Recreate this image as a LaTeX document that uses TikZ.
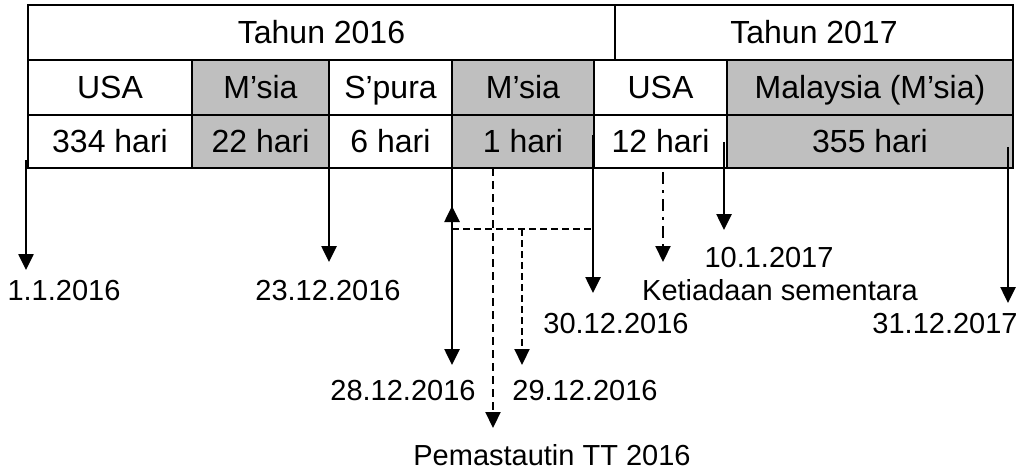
\documentclass[tikz,border=0pt]{standalone}
\usepackage{fontspec}
\setmainfont{Liberation Sans}
\usetikzlibrary{arrows.meta}
\definecolor{cellgray}{rgb}{0.75,0.75,0.75}

\begin{document}
\begin{tikzpicture}[x=1pt,y=-1pt,
  cell/.style={draw,line width=2.5pt,anchor=north west,inner sep=0pt,outer sep=0pt,minimum height=55pt,text height=23pt,text depth=0pt,font=\fontsize{32}{38}\selectfont},
  shade/.style={cell,fill=cellgray},
  datum/.style={inner sep=0pt,text height=21pt,text depth=0pt,font=\fontsize{29}{34}\selectfont},
  tip/.style={-{Triangle[width=15pt,length=16pt]},line width=2.6pt},
  dashline/.style={line width=2.2pt,dash pattern=on 7pt off 4pt}]
	\useasboundingbox (0,0) rectangle (1027,473);

	% table
	\node[cell,minimum width=587pt] (t16) at (28,5) {Tahun 2016};
	\node[cell,minimum width=398pt] (t17) at (615,5) {Tahun 2017};

	\node[cell,minimum width=164pt] (usa1) at (28,60) {USA};
	\node[shade,minimum width=137pt] (msia1) at (192,60) {M’sia};
	\node[cell,minimum width=123pt] (spura) at (329,60) {S’pura};
	\node[shade,minimum width=142pt] (msia2) at (452,60) {M’sia};
	\node[cell,minimum width=133pt] (usa2) at (594,60) {USA};
	\node[shade,minimum width=286pt] (msia3) at (727,60) {Malaysia (M’sia)};

	\node[cell,minimum width=164pt,minimum height=53pt] (h334) at (28,115) {334 hari};
	\node[shade,minimum width=137pt,minimum height=53pt] (h22) at (192,115) {22 hari};
	\node[cell,minimum width=123pt,minimum height=53pt] (h6) at (329,115) {6 hari};
	\node[shade,minimum width=142pt,minimum height=53pt] (h1) at (452,115) {1 hari};
	\node[cell,minimum width=133pt,minimum height=53pt] (h12) at (594,115) {12 hari};
	\node[shade,minimum width=286pt,minimum height=53pt] (h355) at (727,115) {355 hari};

	% dates
	\node[datum] (d0101) at (64,290) {1.1.2016};
	\node[datum] (d2312) at (328,290) {23.12.2016};
	\node[datum] (d2812) at (403,390) {28.12.2016};
	\node[datum] (d2912) at (585,390) {29.12.2016};
	\node[datum] (d3012) at (616,323) {30.12.2016};
	\node[datum] (tt) at (552,455) {Pemastautin TT 2016};
	\node[datum] (d1001) at (769,257) {10.1.2017};
	\node[datum] (ketiadaan) at (780,290) {Ketiadaan sementara};
	\node[datum] (d3112) at (945,323) {31.12.2017};

	% arrow ends
	\coordinate (s1) at (26,160);   \coordinate (e1) at (26,270);
	\coordinate (s2) at (329,158);  \coordinate (e2) at (329,262);
	\coordinate (s3) at (452,157);  \coordinate (e3) at (452,365);
	\coordinate (k3) at (452,229);  \coordinate (u3) at (452,206);
	\coordinate (k6) at (593,229);
	\coordinate (k4) at (522,229);  \coordinate (e4) at (522,365);
	\coordinate (s5) at (493,168);  \coordinate (e5) at (493,428);
	\coordinate (s6) at (593,135);  \coordinate (e6) at (593,293);
	\coordinate (s7) at (663,172);  \coordinate (e7) at (663,262);
	\coordinate (s8) at (724,142);  \coordinate (e8) at (724,230);
	\coordinate (s9) at (1008,147); \coordinate (e9) at (1008,303);

	\draw[tip] (s1) -- (e1);
	\draw[tip] (s2) -- (e2);
	\draw[tip] (s3) -- (e3);
	\draw[tip] (k3) -- (u3);
	\draw[dashline] (k3) -- (k6);
	\draw[tip,dashline] (k4) -- (e4);
	\draw[tip,dashline,dash pattern=on 8pt off 5pt] (s5) -- (e5);
	\draw[tip] (s6) -- (e6);
	\draw[tip,line width=2.2pt,dash pattern=on 12pt off 6pt on 3pt off 6pt] (s7) -- (e7);
	\draw[tip] (s8) -- (e8);
	\draw[tip] (s9) -- (e9);
\end{tikzpicture}
\end{document}
